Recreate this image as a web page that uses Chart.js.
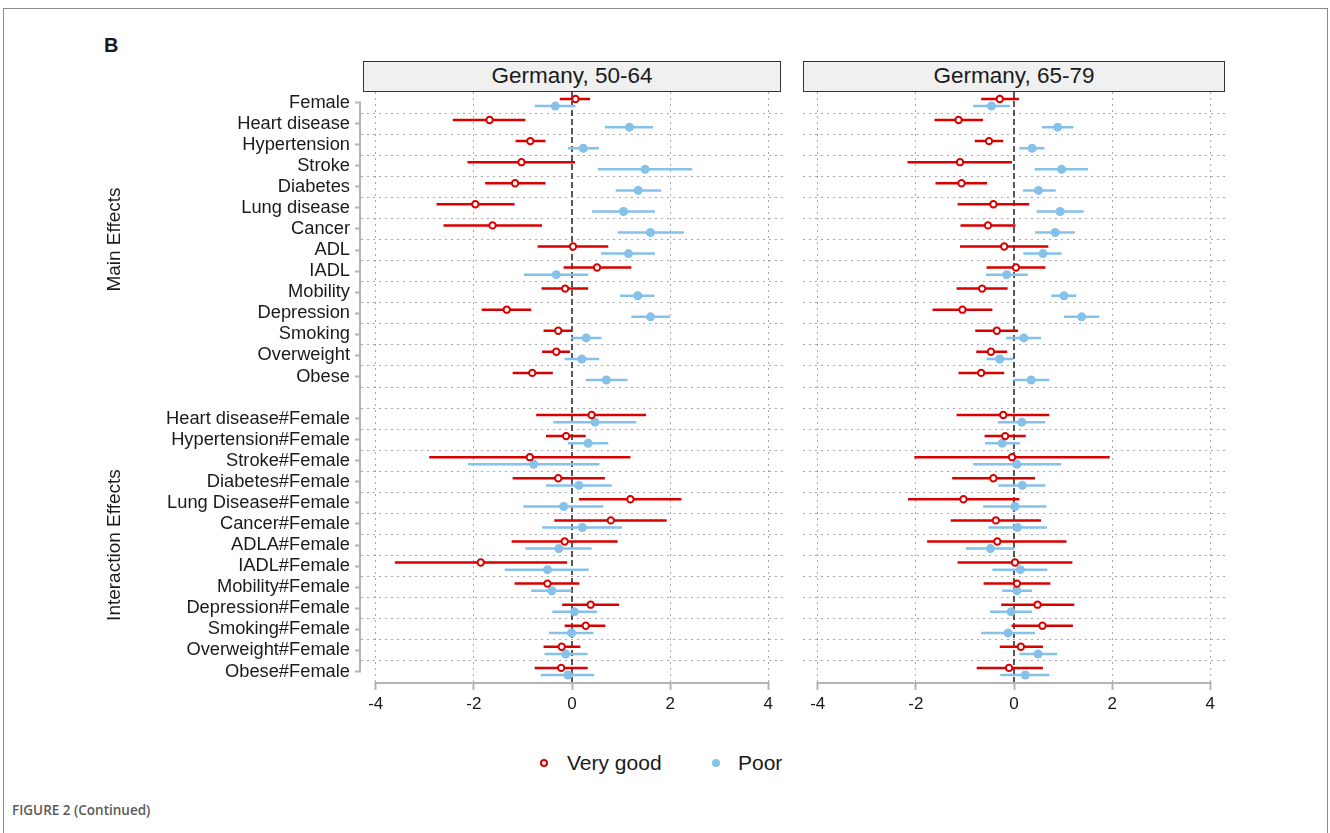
<!DOCTYPE html>
<html>
<head>
<meta charset="utf-8">
<title>Germany forest plot</title>
<script src="https://cdn.jsdelivr.net/npm/chart.js@4.4.0/dist/chart.umd.min.js"></script>
<style>
  body { margin: 0; width: 1330px; height: 833px; overflow: hidden; background: #fff;
         font-family: "Liberation Sans", Arial, sans-serif; color: #1a1a1a; position: relative; }
  .frame { position: absolute; left: 3px; top: 8px; width: 1325px; height: 900px;
           border: 1.5px solid #8c8c8c; box-sizing: border-box; }
  .tag { position: absolute; left: 104px; top: 34px; font-weight: bold; font-size: 20px; }
  .strip { position: absolute; top: 61px; height: 31px; box-sizing: border-box; border: 1.5px solid #333;
           background: #f0f0f0; font-size: 22.5px; text-align: center; line-height: 28px; }
  canvas { position: absolute; }
  .key { position: absolute; top: 750px; font-size: 21px; line-height: 26px; }
  .ring, .dot { position: absolute; top: 759px; width: 8px; height: 8px; border-radius: 50%; box-sizing: border-box; }
  .ring { left: 540px; border: 2px solid #d90000; background: #fff; }
  .dot { left: 712px; background: #85c1e9; }
  .caption { position: absolute; left: 12px; top: 801px; font-family: "Open Sans", sans-serif;
             font-weight: 600; font-size: 13.5px; color: #5a5a5a; }
</style>
</head>
<body>
<div class="frame"></div>
<div class="tag">B</div>
<div class="strip" style="left:363px; width:418px;">Germany, 50-64</div>
<div class="strip" style="left:803px; width:422px;">Germany, 65-79</div>
<canvas id="panelYoung" width="683" height="630" style="left:100px; top:92px;"></canvas>
<canvas id="panelOld" width="422" height="630" style="left:803px; top:92px;"></canvas>
<span class="ring"></span><span class="key" style="left:567px;">Very good</span>
<span class="dot"></span><span class="key" style="left:738px;">Poor</span>
<div class="caption">FIGURE 2 (Continued)</div>

<script>
// Coefficient rows, top to bottom
const mainLabels = ['Female', 'Heart disease', 'Hypertension', 'Stroke', 'Diabetes', 'Lung disease',
  'Cancer', 'ADL', 'IADL', 'Mobility', 'Depression', 'Smoking', 'Overweight', 'Obese'];
const interLabels = ['Heart disease#Female', 'Hypertension#Female', 'Stroke#Female', 'Diabetes#Female',
  'Lung Disease#Female', 'Cancer#Female', 'ADLA#Female', 'IADL#Female', 'Mobility#Female',
  'Depression#Female', 'Smoking#Female', 'Overweight#Female', 'Obese#Female'];
const groupTitles = ['Main Effects', 'Interaction Effects'];
const xTicks = [-4, -2, 0, 2, 4];

// Germany 50-64, very good self-rated health: estimate, lower, upper (main rows then interactions)
const vg5064 = [0.07, -1.68, -0.85, -1.03, -1.16, -1.97, -1.62, 0.02, 0.51, -0.14, -1.33, -0.28, -0.32, -0.81,
  0.40, -0.12, -0.86, -0.28, 1.19, 0.79, -0.15, -1.86, -0.50, 0.38, 0.28, -0.21, -0.22];
const vg5064Lo = [-0.25, -2.43, -1.15, -2.13, -1.77, -2.76, -2.62, -0.70, -0.17, -0.62, -1.84, -0.58, -0.61, -1.21,
  -0.73, -0.53, -2.91, -1.21, 0.14, -0.36, -1.23, -3.61, -1.17, -0.20, -0.15, -0.58, -0.76];
const vg5064Hi = [0.37, -0.95, -0.54, 0.06, -0.54, -1.17, -0.61, 0.74, 1.21, 0.33, -0.83, 0.00, -0.04, -0.39,
  1.51, 0.28, 1.19, 0.67, 2.23, 1.93, 0.93, -0.10, 0.15, 0.96, 0.68, 0.17, 0.32];

// Germany 50-64, poor self-rated health
const pr5064 = [-0.34, 1.17, 0.23, 1.49, 1.35, 1.05, 1.60, 1.15, -0.32, 1.34, 1.60, 0.29, 0.20, 0.70,
  0.47, 0.33, -0.78, 0.14, -0.17, 0.21, -0.27, -0.50, -0.41, 0.05, -0.01, -0.13, -0.08];
const pr5064Lo = [-0.76, 0.67, -0.08, 0.53, 0.89, 0.41, 0.93, 0.59, -0.98, 0.98, 1.21, -0.02, -0.15, 0.28,
  -0.38, -0.08, -2.12, -0.53, -0.99, -0.61, -0.95, -1.37, -0.83, -0.40, -0.47, -0.56, -0.64];
const pr5064Hi = [0.07, 1.65, 0.55, 2.45, 1.82, 1.69, 2.28, 1.69, 0.33, 1.68, 2.00, 0.60, 0.55, 1.13,
  1.31, 0.74, 0.56, 0.81, 0.64, 1.02, 0.40, 0.34, -0.01, 0.51, 0.44, 0.32, 0.45];

// Germany 65-79, very good self-rated health
const vg6579 = [-0.29, -1.13, -0.51, -1.10, -1.07, -0.42, -0.53, -0.20, 0.04, -0.65, -1.05, -0.35, -0.47, -0.67,
  -0.22, -0.18, -0.04, -0.42, -1.03, -0.37, -0.34, 0.02, 0.06, 0.48, 0.58, 0.14, -0.10];
const vg6579Lo = [-0.67, -1.62, -0.80, -2.17, -1.60, -1.15, -1.09, -1.10, -0.56, -1.17, -1.66, -0.79, -0.77, -1.13,
  -1.17, -0.60, -2.03, -1.26, -2.16, -1.29, -1.77, -1.15, -0.62, -0.26, -0.05, -0.29, -0.76];
const vg6579Hi = [0.10, -0.63, -0.22, -0.04, -0.55, 0.31, 0.03, 0.70, 0.64, -0.13, -0.44, 0.08, -0.14, -0.20,
  0.72, 0.24, 1.95, 0.43, 0.11, 0.55, 1.07, 1.19, 0.74, 1.23, 1.20, 0.59, 0.59];

// Germany 65-79, poor self-rated health
const pr6579 = [-0.46, 0.89, 0.37, 0.97, 0.50, 0.94, 0.84, 0.59, -0.15, 1.02, 1.38, 0.20, -0.29, 0.35,
  0.16, -0.24, 0.06, 0.17, 0.02, 0.07, -0.48, 0.13, 0.06, -0.06, -0.12, 0.49, 0.23];
const pr6579Lo = [-0.83, 0.57, 0.11, 0.42, 0.18, 0.46, 0.43, 0.19, -0.57, 0.76, 1.02, -0.16, -0.56, -0.01,
  -0.33, -0.59, -0.83, -0.32, -0.63, -0.52, -0.98, -0.44, -0.24, -0.49, -0.67, 0.11, -0.28];
const pr6579Hi = [-0.08, 1.21, 0.62, 1.51, 0.85, 1.42, 1.24, 0.97, 0.28, 1.27, 1.74, 0.55, -0.01, 0.72,
  0.64, 0.12, 0.96, 0.64, 0.66, 0.67, 0.01, 0.68, 0.37, 0.37, 0.43, 0.88, 0.72];

const RED = '#d90000';
const BLUE = '#85c1e9';
const AXIS_GRAY = '#b4b4b4';
const GRID_GRAY = '#a8a8a8';
const FONT = '"Liberation Sans", Arial, sans-serif';

// one empty row separates the two blocks
const rowOf = i => (i < mainLabels.length ? i : i + 1);
const lastRow = mainLabels.length + interLabels.length;
const yMin = -0.5, yMax = lastRow + 0.5;
const rowLabels = {};
mainLabels.forEach((t, i) => { rowLabels[i] = t; });
interLabels.forEach((t, i) => { rowLabels[mainLabels.length + 1 + i] = t; });
const labelRows = Object.keys(rowLabels).map(Number);
const gridRows = [];
for (let r = 0.5; r < lastRow; r++) gridRows.push(r);

const SHIFT = 0.17; // red sits above the row, blue below

function points(est, shift) {
  return est.map((v, i) => ({ x: v, y: rowOf(i) + shift }));
}
function intervals(lo, hi, shift) {
  const out = [];
  lo.forEach((v, i) => {
    const y = rowOf(i) + shift;
    out.push({ x: v, y: y }, { x: hi[i], y: y }, { x: null, y: null });
  });
  return out;
}

const axisLines = {
  id: 'axisLines',
  afterDraw(chart, args, opts) {
    const { ctx, chartArea, scales } = chart;
    const x = scales.x, y = scales.y;
    ctx.save();
    ctx.strokeStyle = AXIS_GRAY;
    ctx.lineWidth = 2;
    ctx.beginPath();
    ctx.moveTo(x.getPixelForValue(xTicks[0]) - 1, chartArea.bottom + 1);
    ctx.lineTo(x.getPixelForValue(xTicks[xTicks.length - 1]) + 1, chartArea.bottom + 1);
    if (opts.leftAxis) {
      ctx.moveTo(chartArea.left - 1, y.getPixelForValue(0));
      ctx.lineTo(chartArea.left - 1, y.getPixelForValue(lastRow));
    }
    ctx.stroke();
    if (opts.groupX != null) {
      ctx.fillStyle = '#1a1a1a';
      ctx.font = '19px ' + FONT;
      ctx.textAlign = 'center';
      ctx.textBaseline = 'middle';
      const centers = [(mainLabels.length - 1) / 2, (mainLabels.length + 1 + lastRow) / 2];
      groupTitles.forEach((t, k) => {
        ctx.save();
        ctx.translate(opts.groupX, y.getPixelForValue(centers[k]));
        ctx.rotate(-Math.PI / 2);
        ctx.fillText(t, 0, 0);
        ctx.restore();
      });
    }
    ctx.restore();
  }
};

function makePanel(id, vg, vgLo, vgHi, pr, prLo, prHi, withLabels) {
  const scales = {
    x: {
      type: 'linear', min: -4.3, max: 4.3,
      afterBuildTicks: s => { s.ticks = xTicks.map(v => ({ value: v })); },
      afterFit: s => { s.height = 40; s.paddingLeft = 0; s.paddingRight = 0; },
      ticks: { color: '#1a1a1a', font: { family: FONT, size: 17 }, padding: 4, maxRotation: 0 },
      grid: {
        color: c => (c.tick && c.tick.value === 0 ? 'rgba(0,0,0,0)' : GRID_GRAY),
        lineWidth: 1, tickLength: 8, tickColor: AXIS_GRAY, tickWidth: 2
      },
      border: { display: false, dash: [2, 4] }
    },
    y: {
      type: 'linear', position: 'left', reverse: true, min: yMin, max: yMax,
      afterBuildTicks: s => { s.ticks = gridRows.map(v => ({ value: v })); },
      afterFit: s => { s.width = 0; s.paddingTop = 0; s.paddingBottom = 0; },
      ticks: { display: false },
      grid: { color: GRID_GRAY, lineWidth: 1, drawTicks: false },
      border: { display: false, dash: [2, 4] }
    }
  };
  if (withLabels) {
    scales.yl = {
      type: 'linear', position: 'left', reverse: true, min: yMin, max: yMax,
      afterBuildTicks: s => { s.ticks = labelRows.map(v => ({ value: v })); },
      afterFit: s => { s.width = 261; s.paddingTop = 0; s.paddingBottom = 0; },
      ticks: {
        autoSkip: false, padding: 5, color: '#1a1a1a',
        font: { family: FONT, size: 18.3 },
        callback: v => rowLabels[v]
      },
      grid: { drawOnChartArea: false, tickLength: 6, tickColor: AXIS_GRAY, tickWidth: 2 },
      border: { display: false }
    };
  }

  return new Chart(document.getElementById(id), {
    type: 'scatter',
    data: {
      datasets: [
        {
          label: 'Very good', data: points(vg, -SHIFT),
          pointStyle: 'circle', pointRadius: 3.2, pointBorderWidth: 2,
          pointBorderColor: RED, pointBackgroundColor: '#fff'
        },
        {
          label: 'Poor', data: points(pr, SHIFT),
          pointStyle: 'circle', pointRadius: 4.5, pointBorderWidth: 0,
          pointBackgroundColor: BLUE
        },
        {
          label: 'Very good CI', data: intervals(vgLo, vgHi, -SHIFT),
          showLine: true, spanGaps: false, pointRadius: 0, borderColor: RED, borderWidth: 2.5
        },
        {
          label: 'Poor CI', data: intervals(prLo, prHi, SHIFT),
          showLine: true, spanGaps: false, pointRadius: 0, borderColor: BLUE, borderWidth: 2.5
        },
        {
          label: 'zero', data: [{ x: 0, y: yMin }, { x: 0, y: yMax }],
          showLine: true, pointRadius: 0, borderColor: '#222', borderWidth: 1.5, borderDash: [6, 3]
        }
      ]
    },
    options: {
      responsive: false,
      animation: false,
      layout: { padding: 0, autoPadding: false },
      plugins: {
        legend: { display: false },
        tooltip: { enabled: false },
        axisLines: { leftAxis: withLabels, groupX: withLabels ? 15 : null }
      },
      scales: scales
    },
    plugins: [axisLines]
  });
}

makePanel('panelYoung', vg5064, vg5064Lo, vg5064Hi, pr5064, pr5064Lo, pr5064Hi, true);
makePanel('panelOld', vg6579, vg6579Lo, vg6579Hi, pr6579, pr6579Lo, pr6579Hi, false);
</script>
</body>
</html>
